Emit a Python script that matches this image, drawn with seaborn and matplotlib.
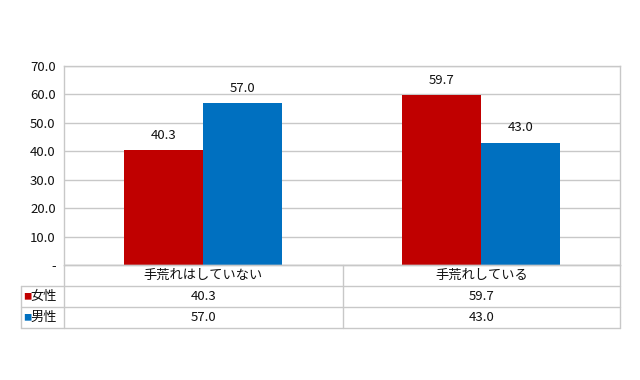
import pandas as pd
import numpy as np
import matplotlib.pyplot as plt
import seaborn as sns

# data
categories = ["手荒れはしていない", "手荒れしている"]
groups = ["女性", "男性"]
female_vals = [40.3, 59.7]
male_vals = [57.0, 43.0]
colors = ["#C00000", "#0070C0"]

df = pd.DataFrame({
    "category": categories * 2,
    "group": [groups[0]] * 2 + [groups[1]] * 2,
    "value": female_vals + male_vals,
})

sns.set_style("white")
plt.rcParams["font.family"] = ["Noto Sans CJK JP", "DejaVu Sans"]

W, H = 640, 380
fig = plt.figure(figsize=(6.4, 3.8), dpi=100)
L, R, T, B = 64, 620, 66, 265
ax = fig.add_axes([L / W, 1 - B / H, (R - L) / W, (B - T) / H])

sns.barplot(data=df, x="category", y="value", hue="group", palette=colors,
            saturation=1, width=0.57, ax=ax, legend=False, linewidth=0)

for c in ax.containers:
    ax.bar_label(c, fmt="%.1f", padding=6, fontsize=9.5, color="#111111")

ax.set_ylim(0, 70)
ax.set_xlim(-0.5, 1.5)
yt = np.arange(0, 71, 10)
ax.set_yticks(yt)
ax.set_yticklabels(["-"] + [f"{v:.1f}" for v in yt[1:]], fontsize=9.5, color="#111111")
ax.yaxis.grid(True, color="#c8c8c8", linewidth=1)
ax.set_axisbelow(True)
ax.set_xticks([])
ax.set_xlabel("")
ax.set_ylabel("")
ax.tick_params(axis="y", length=0, pad=6)
for s in ax.spines.values():
    s.set_color("#c8c8c8")
    s.set_linewidth(1)


# table below the plot, drawn in pixel coordinates
def fx(px):
    return px / W


def fy(py):
    return 1 - py / H


line_kw = dict(color="#c8c8c8", linewidth=1, transform=fig.transFigure)
rows = [265, 286, 307, 328]
cols = [64, 343, 620]
TL = 21
fig.add_artist(plt.Line2D([fx(L), fx(R)], [fy(rows[0])] * 2, **line_kw))
for r in rows[1:]:
    fig.add_artist(plt.Line2D([fx(TL), fx(R)], [fy(r)] * 2, **line_kw))
for c in cols:
    fig.add_artist(plt.Line2D([fx(c)] * 2, [fy(rows[0]), fy(rows[-1])], **line_kw))
fig.add_artist(plt.Line2D([fx(TL)] * 2, [fy(rows[1]), fy(rows[-1])], **line_kw))

centers = [(cols[0] + cols[1]) / 2, (cols[1] + cols[2]) / 2]
for cx, cat in zip(centers, categories):
    fig.text(fx(cx), fy((rows[0] + rows[1]) / 2), cat, ha="center", va="center",
             fontsize=9.5, color="#111111")

vals = [female_vals, male_vals]
for i, (g, col) in enumerate(zip(groups, colors)):
    yc = fy((rows[i + 1] + rows[i + 2]) / 2)
    fig.text(fx(23), yc, "■", ha="left", va="center", fontsize=6, color=col)
    fig.text(fx(30), yc, g, ha="left", va="center", fontsize=9.5, color="#111111")
    for cx, v in zip(centers, vals[i]):
        fig.text(fx(cx), yc, f"{v:.1f}", ha="center", va="center",
                 fontsize=9.5, color="#111111")

fig.savefig("out.png", dpi=100)
